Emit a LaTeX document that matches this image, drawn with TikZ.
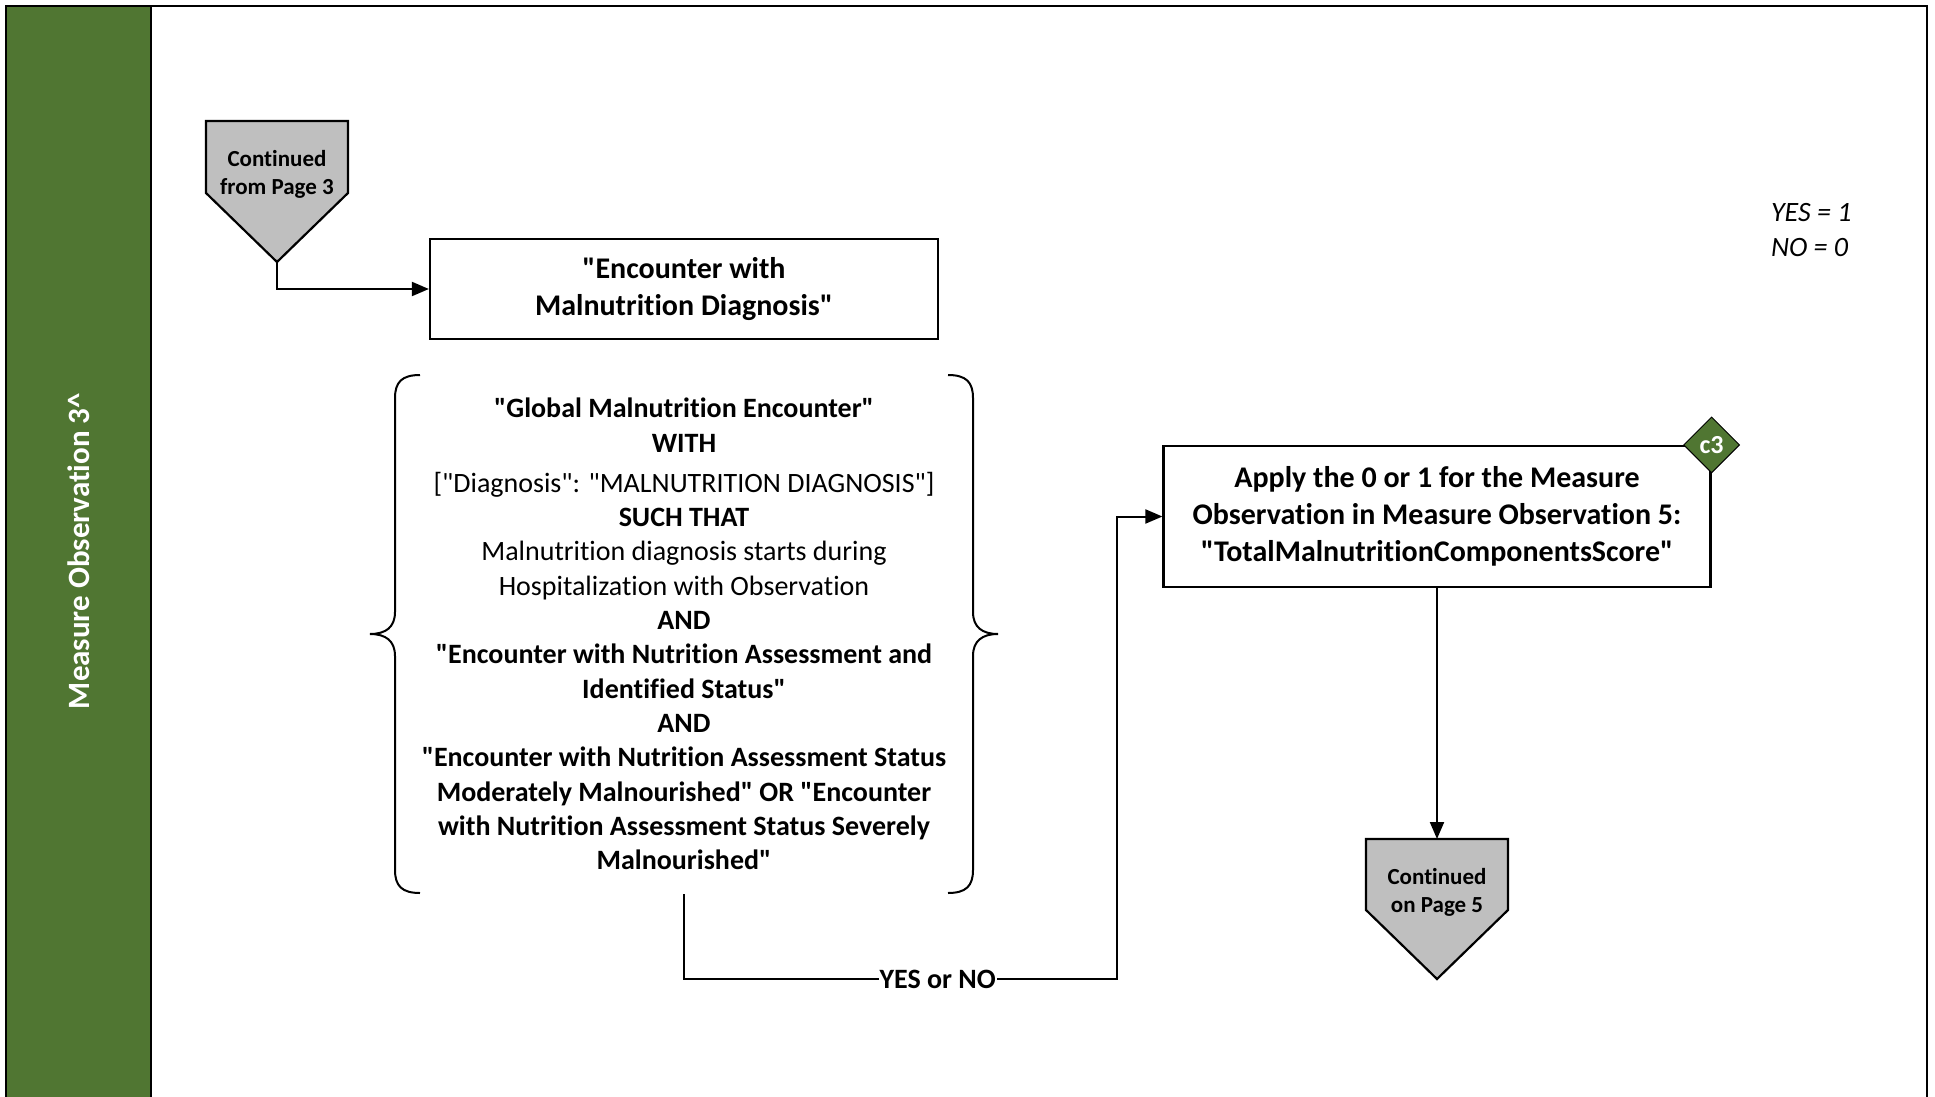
\documentclass[tikz,border=0pt]{standalone}
\usepackage{fontspec}
\setmainfont{Carlito}[Ligatures={TeXOff,NoCommon}]
\usetikzlibrary{arrows.meta,shapes.geometric}
\definecolor{bandgreen}{RGB}{80,118,50}
\definecolor{offgray}{RGB}{191,191,191}
\begin{document}
\begin{tikzpicture}[x=1pt,y=-1pt,line width=2pt,
  >={Triangle[length=17pt,width=14pt]},
  box/.style={draw,line width=2.2pt,align=center,inner sep=0pt,font=\fontsize{30}{37}\selectfont\bfseries},
  offpage/.style={draw,line width=2.2pt,fill=offgray},
  offtext/.style={align=center,inner sep=0pt,font=\fontsize{23}{28}\selectfont\bfseries},
  crit/.style={align=center,inner sep=0pt,minimum width=627pt,minimum height=518pt,font=\fontsize{28}{34.3}\selectfont},
  tag/.style={diamond,draw=black,line width=1pt,fill=bandgreen,text=white,inner sep=0pt,minimum width=56pt,minimum height=56pt,font=\fontsize{26}{28}\selectfont\bfseries},
  yn/.style={fill=white,inner sep=1pt,font=\fontsize{28}{34}\selectfont\bfseries}]
\useasboundingbox (0,0) rectangle (1935,1097);
\fill[bandgreen] (6,6) rectangle (151,1120);
\draw[line width=2.5pt] (6,6) rectangle (1927,1120);
\draw[line width=2.5pt] (151,6) -- (151,1120);
\node[rotate=90,text=white,inner sep=0pt,font=\fontsize{31}{36}\selectfont\bfseries] (lane) at (79,551) {Measure Observation 3\textasciicircum};

\draw[offpage] (206,121) -- (348,121) -- (348,193) -- (277,262) -- (206,193) -- cycle;
\node[offtext] (off3) at (277,174) {Continued\\from Page 3};
\coordinate (off3tip) at (277,262);

\node[box,minimum width=508pt,minimum height=100pt] (enc) at (684,289) {"Encounter with\\Malnutrition Diagnosis"};
\path[draw,->] (off3tip) |- (enc.west);

\node[crit] (crit) at (684,634) {\textbf{"Global Malnutrition Encounter"}\\
\textbf{WITH}\\[6pt]
{[}"Diagnosis": "MALNUTRITION DIAGNOSIS"]\\
\textbf{SUCH THAT}\\
Malnutrition diagnosis starts during\\
Hospitalization with Observation\\
\textbf{AND}\\
\textbf{"Encounter with Nutrition Assessment and}\\
\textbf{Identified Status"}\\
\textbf{AND}\\
\textbf{"Encounter with Nutrition Assessment Status}\\
\textbf{Moderately Malnourished" OR "Encounter}\\
\textbf{with Nutrition Assessment Status Severely}\\
\textbf{Malnourished"}};
\draw (420,375) .. controls (402,375) and (395,382) .. (395,398) -- (395,612) .. controls (395,627) and (386,634) .. (370,634) .. controls (386,634) and (395,641) .. (395,656) -- (395,870) .. controls (395,886) and (402,893) .. (420,893);
\draw (948,375) .. controls (966,375) and (973,382) .. (973,398) -- (973,612) .. controls (973,627) and (982,634) .. (998,634) .. controls (982,634) and (973,641) .. (973,656) -- (973,870) .. controls (973,886) and (966,893) .. (948,893);

\node[box,minimum width=547pt,minimum height=141pt] (apply) at (1437,516.5) {Apply the 0 or 1 for the Measure\\Observation in Measure Observation 5:\\"TotalMalnutritionComponentsScore"};
\node[tag] (c3) at (apply.north east) {c3};

\coordinate (bend) at (1117,979);
\path[draw,->] (crit.south) |- node[yn,pos=0.793] {YES or NO} (bend) |- (apply.west);

\draw[offpage] (1366,839) -- (1508,839) -- (1508,910) -- (1437,979) -- (1366,910) -- cycle;
\node[offtext] (off5) at (1437,892) {Continued\\on Page 5};
\coordinate (off5top) at (1437,839);
\path[draw,->] (apply.south) -- (off5top);

\node[anchor=west,align=left,inner sep=0pt,font=\fontsize{28}{35}\selectfont\itshape] (key) at (1770,230) {YES = 1\\NO = 0};
\end{tikzpicture}
\end{document}
